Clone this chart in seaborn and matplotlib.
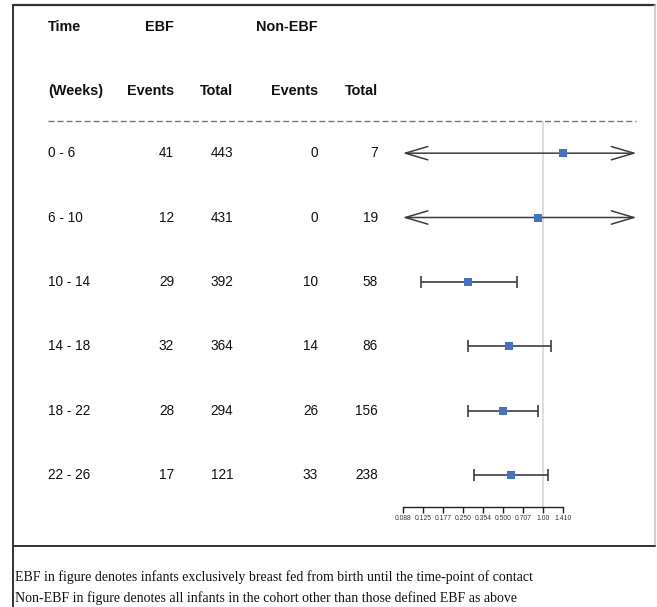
import numpy as np
import pandas as pd
import matplotlib.pyplot as plt
import matplotlib.transforms as mtransforms
import seaborn as sns

# values
weeks = ["0 - 6", "6 - 10", "10 - 14", "14 - 18", "18 - 22", "22 - 26"]
ebf_events = [41, 12, 29, 32, 28, 17]
ebf_total = [443, 431, 392, 364, 294, 121]
nonebf_events = [0, 0, 10, 14, 26, 33]
nonebf_total = [7, 19, 58, 86, 156, 238]
# estimate and CI (rows 1-2: CI runs past both clip limits -> arrows)
estimate = [1.405, 0.913, 0.271, 0.553, 0.501, 0.573]
ci_low = [0.01, 0.01, 0.120, 0.271, 0.271, 0.301]
ci_high = [50.0, 50.0, 0.638, 1.142, 0.908, 1.085]
clip = (0.088, 5.0)
tick_vals = [0.088, 0.125, 0.177, 0.250, 0.354, 0.500, 0.707, 1.00, 1.410]
tick_labels = ["0.088", "0.125", "0.177", "0.250", "0.354", "0.500", "0.707", "1.00", "1.410"]
footnotes = [
    "EBF in figure denotes infants exclusively breast fed from birth until the time-point of contact",
    "Non-EBF in figure denotes all infants in the cohort other than those defined EBF as above",
]

df = pd.DataFrame({
    "row": np.arange(len(weeks)),
    "est": estimate,
    "lo": ci_low,
    "hi": ci_high,
})

sns.set_theme(style="white")
plt.rcParams["font.family"] = ["Liberation Sans", "DejaVu Sans"]

W, H = 657, 607
fig = plt.figure(figsize=(W / 100, H / 100), dpi=100)

# background axes in pixel units for the frame and table layout
frame = fig.add_axes([0, 0, 1, 1])
frame.set_xlim(0, W)
frame.set_ylim(H, 0)
frame.axis("off")

# forest axes: rows span y 121..507 px, x from clip low to clip high
x0, x1, y0, y1 = 402.7, 636.5, 121, 507
ax = fig.add_axes([x0 / W, 1 - y1 / H, (x1 - x0) / W, (y1 - y0) / H])
ax.patch.set_alpha(0)
ax.set_xscale("log")
ax.set_xlim(*clip)
ax.set_ylim(len(weeks) - 0.5, -0.5)

ax.axvline(1.0, color="#d4d4d4", lw=1.1, zorder=0)

line_col = "#3c3c44"
inside = (df["lo"] >= clip[0]) & (df["hi"] <= clip[1])
d_in = df[inside]
ax.errorbar(d_in["est"], d_in["row"],
            xerr=[d_in["est"] - d_in["lo"], d_in["hi"] - d_in["est"]],
            fmt="none", ecolor=line_col, elinewidth=1.2,
            capsize=4.6, capthick=1.2, zorder=2)
for _, r in df[~inside].iterrows():
    lo = max(r["lo"], clip[0])
    hi = min(r["hi"], clip[1])
    ax.annotate("", xy=(lo, r["row"]), xytext=(hi, r["row"]),
                arrowprops=dict(arrowstyle="<->,head_length=1.35,head_width=0.4",
                                color=line_col, lw=1.1, shrinkA=0, shrinkB=0),
                zorder=2)

sns.scatterplot(data=df, x="est", y="row", marker="s", s=38,
                color="#4472C4", edgecolor="#4472C4", linewidth=0,
                zorder=3, ax=ax, legend=False)

for s in ["top", "left", "right"]:
    ax.spines[s].set_visible(False)
ax.spines["bottom"].set_bounds(tick_vals[0], tick_vals[-1])
ax.spines["bottom"].set_color("#222222")
ax.spines["bottom"].set_linewidth(1.0)
ax.set_xticks(tick_vals)
ax.set_xticklabels(tick_labels)
ax.xaxis.set_minor_locator(plt.NullLocator())
ax.tick_params(axis="x", direction="out", length=4, width=1.0, color="#222222",
               labelsize=4.9, labelcolor="#333333", pad=2, bottom=True)
ax.set_yticks([])
ax.set_xlabel("")
ax.set_ylabel("")

# table text: x in pixels, y in row units of the forest axes
tr = mtransforms.blended_transform_factory(frame.transData, ax.transData)
fs = 9.8
txt_col = "#111111"
for i in range(len(weeks)):
    frame.text(48, i, weeks[i], transform=tr, ha="left", va="center", fontsize=fs, color=txt_col)
    frame.text(174, i, str(ebf_events[i]), transform=tr, ha="right", va="center", fontsize=fs, color=txt_col)
    frame.text(233, i, str(ebf_total[i]), transform=tr, ha="right", va="center", fontsize=fs, color=txt_col)
    frame.text(318, i, str(nonebf_events[i]), transform=tr, ha="right", va="center", fontsize=fs, color=txt_col)
    frame.text(378, i, str(nonebf_total[i]), transform=tr, ha="right", va="center", fontsize=fs, color=txt_col)

hdr = dict(fontsize=10.4, fontweight="bold", va="center", color=txt_col)
frame.text(48, 27, "Time", ha="left", **hdr)
frame.text(174, 27, "EBF", ha="right", **hdr)
frame.text(318, 27, "Non-EBF", ha="right", **hdr)
frame.text(48, 91, "(Weeks)", ha="left", **hdr)
frame.text(174, 91, "Events", ha="right", **hdr)
frame.text(233, 91, "Total", ha="right", **hdr)
frame.text(318, 91, "Events", ha="right", **hdr)
frame.text(378, 91, "Total", ha="right", **hdr)

frame.plot([48, 636], [121, 121], color="#777777", lw=1.0, ls=(0, (4.3, 2.2)))

# border
frame.plot([13, 655], [5, 5], color="#333333", lw=1.6)
frame.plot([13, 13], [5, H], color="#333333", lw=1.4)
frame.plot([655, 655], [5, 546], color="#c8c8c8", lw=1.2)
frame.plot([13, 655], [546, 546], color="#333333", lw=1.4)

for k, note in enumerate(footnotes):
    frame.text(15, 577 + 21 * k, note, ha="left", va="center",
               fontsize=10.0, family=["Liberation Serif", "DejaVu Serif"], color="#111111")

fig.savefig("out.png", dpi=100)
